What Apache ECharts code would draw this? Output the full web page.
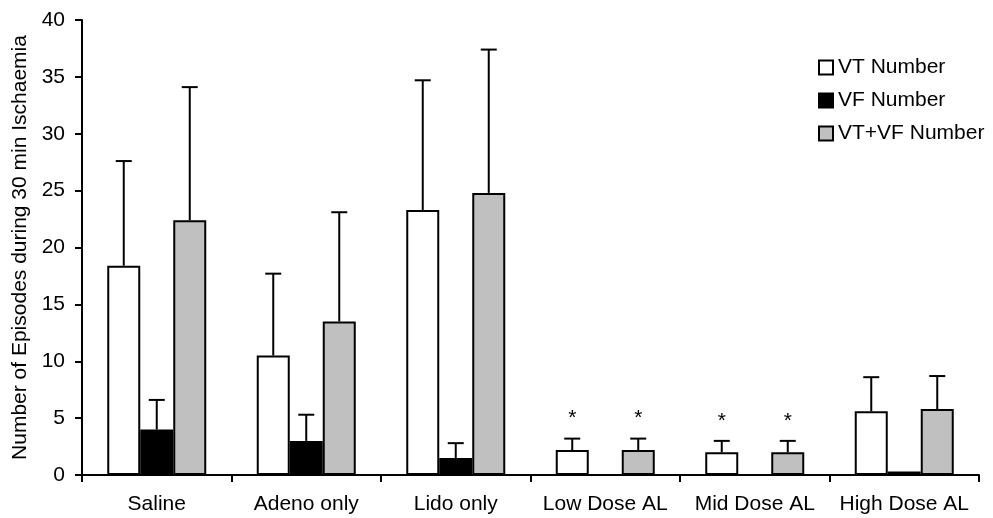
<!DOCTYPE html>
<html>
<head>
<meta charset="utf-8">
<script src="https://cdn.jsdelivr.net/npm/echarts@6/dist/echarts.min.js"></script>
<style>
  html, body { margin: 0; padding: 0; background: #fff; }
  #main { width: 993px; height: 518px; }
</style>
</head>
<body>
<div id="main"></div>
<script>
var categories = ["Saline", "Adeno only", "Lido only", "Low Dose AL", "Mid Dose AL", "High Dose AL"];
var seriesNames = ["VT Number", "VF Number", "VT+VF Number"];
var vtValues = [18.4, 10.5, 23.3, 2.2, 2.0, 5.6];
var vtErrors = [9.2, 7.2, 11.4, 1.0, 1.0, 3.0];
var vfValues = [4.0, 3.0, 1.5, 0, 0, 0.3];
var vfErrors = [2.6, 2.3, 1.3, 0, 0, 0];
var sumValues = [22.4, 13.5, 24.8, 2.2, 2.0, 5.8];
var sumErrors = [11.7, 9.6, 12.6, 1.0, 1.0, 2.9];
var vtStars = [0, 0, 0, 1, 1, 0];
var sumStars = [0, 0, 0, 1, 1, 0];
var yTicks = [0, 5, 10, 15, 20, 25, 30, 35, 40];

var chartDom = document.getElementById("main");
var myChart = echarts.init(chartDom);
var BAR_W = 33;
var FS = 21;
var fontFam = "Liberation Sans, Arial, sans-serif";

// error bars (upper only) + significance stars, drawn over the bars
function errSeries(name, values, errors, stars, offset) {
  var data = values.map(function (v, i) {
    return [i, v, errors[i], stars[i]];
  });
  return {
    type: "custom",
    name: name + " err",
    silent: true,
    z: 5,
    data: data,
    encode: { x: 0, y: 1 },
    renderItem: function (params, api) {
      var i = api.value(0);
      var v = api.value(1);
      var e = api.value(2);
      var s = api.value(3);
      var base = api.coord([i, v]);
      var top = api.coord([i, v + e]);
      var x = base[0] + offset;
      var kids = [];
      if (e > 0) {
        kids.push({
          type: "line",
          shape: { x1: x, y1: base[1], x2: x, y2: top[1] },
          style: { stroke: "#000", lineWidth: 2 },
        });
        kids.push({
          type: "line",
          shape: { x1: x - 8, y1: top[1], x2: x + 8, y2: top[1] },
          style: { stroke: "#000", lineWidth: 2 },
        });
      }
      if (s) {
        kids.push({
          type: "text",
          x: x,
          y: top[1] - 20,
          style: {
            text: "*",
            fill: "#000",
            font: FS + "px " + fontFam,
            align: "center",
            verticalAlign: "middle",
          },
        });
      }
      return { type: "group", children: kids };
    },
  };
}

var option = {
  backgroundColor: "#fff",
  animation: false,
  grid: { left: 82, right: 14, top: 20, bottom: 43 },
  legend: {
    orient: "vertical",
    left: 813,
    top: 52,
    itemWidth: 14,
    itemHeight: 14,
    itemGap: 12,
    icon: "rect",
    textStyle: { fontFamily: fontFam, fontSize: FS, color: "#000" },
    data: [
      { name: seriesNames[0], itemStyle: { color: "#fff", borderColor: "#000", borderWidth: 2 } },
      { name: seriesNames[1], itemStyle: { color: "#000", borderColor: "#000", borderWidth: 2 } },
      { name: seriesNames[2], itemStyle: { color: "#c0c0c0", borderColor: "#000", borderWidth: 2 } },
    ],
  },
  xAxis: {
    type: "category",
    data: categories,
    axisLine: { lineStyle: { color: "#000", width: 2 } },
    axisTick: { show: true, interval: 0, length: 7, lineStyle: { color: "#000", width: 2 } },
    axisLabel: { interval: 0, color: "#000", fontFamily: fontFam, fontSize: FS, margin: 19 },
  },
  yAxis: {
    type: "value",
    min: 0,
    max: 40,
    interval: 5,
    name: "Number of Episodes during 30 min Ischaemia",
    nameLocation: "middle",
    nameGap: 51,
    nameTextStyle: { color: "#000", fontFamily: fontFam, fontSize: FS },
    axisLine: { show: true, lineStyle: { color: "#000", width: 2 } },
    axisTick: { show: true, length: 7, lineStyle: { color: "#000", width: 2 } },
    axisLabel: {
      color: "#000",
      fontFamily: fontFam,
      fontSize: FS,
      margin: 17,
      formatter: function (v) {
        return yTicks.indexOf(v) >= 0 ? String(v) : "";
      },
    },
    splitLine: { show: false },
  },
  series: [
    {
      name: seriesNames[0],
      type: "bar",
      data: vtValues,
      barWidth: BAR_W,
      barGap: "0%",
      itemStyle: { color: "#fff", borderColor: "#000", borderWidth: 2 },
    },
    {
      name: seriesNames[1],
      type: "bar",
      data: vfValues,
      barWidth: BAR_W,
      barGap: "0%",
      itemStyle: { color: "#000", borderColor: "#000", borderWidth: 2 },
    },
    {
      name: seriesNames[2],
      type: "bar",
      data: sumValues,
      barWidth: BAR_W,
      barGap: "0%",
      itemStyle: { color: "#c0c0c0", borderColor: "#000", borderWidth: 2 },
    },
    errSeries(seriesNames[0], vtValues, vtErrors, vtStars, -BAR_W),
    errSeries(seriesNames[1], vfValues, vfErrors, [0, 0, 0, 0, 0, 0], 0),
    errSeries(seriesNames[2], sumValues, sumErrors, sumStars, BAR_W),
  ],
};

option && myChart.setOption(option);
</script>
</body>
</html>
